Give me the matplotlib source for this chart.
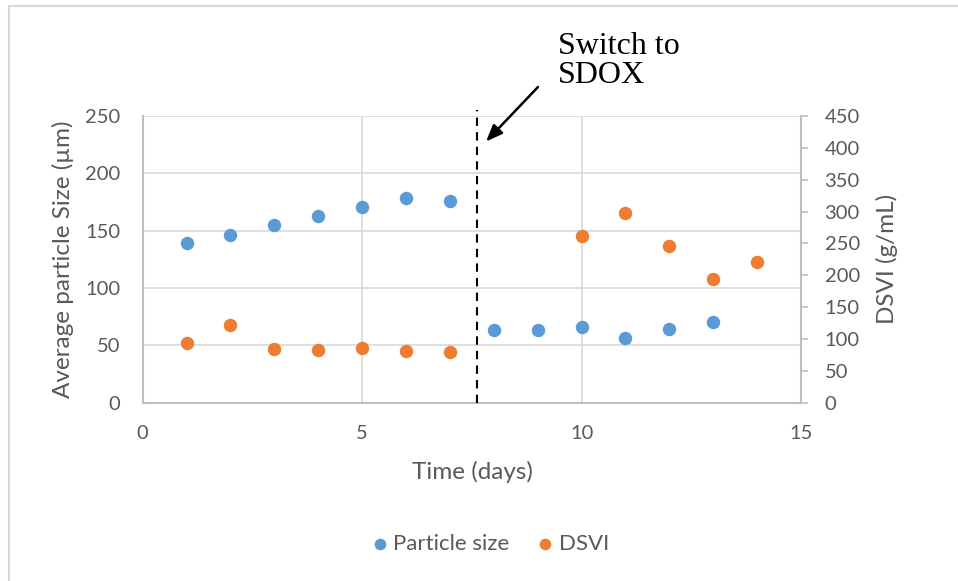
import matplotlib
matplotlib.use("Agg")
import matplotlib.pyplot as plt
from matplotlib.patches import Rectangle

# Particle size (µm) by day
size_days = [1, 2, 3, 4, 5, 6, 7, 8, 9, 10, 11, 12, 13]
particle_size = [139, 146, 155, 163, 171, 178.5, 175.5, 63, 63.5, 66, 56.5, 64.5, 70.5]

# DSVI (g/mL) by day
dsvi_days = [1, 2, 3, 4, 5, 6, 7, 10, 11, 12, 13, 14]
dsvi = [94, 122.5, 84, 83, 85.5, 81.5, 79.5, 261, 298, 246, 194, 221.5]

switch_day = 7.62

left_ticks = [0, 50, 100, 150, 200, 250]
right_ticks = [0, 50, 100, 150, 200, 250, 300, 350, 400, 450]
x_ticks = [0, 5, 10, 15]

BLUE = "#5B9BD5"
ORANGE = "#ED7D31"
GRID = "#D9D9D9"
SPINE = "#BFBFBF"
TEXT = "#595959"
FONT = "Lato"

W, H = 958, 581
fig = plt.figure(figsize=(W / 100, H / 100), dpi=100)
fig.patch.set_facecolor("white")

# chart-area frame
fig.patches.append(Rectangle((9 / W, -0.05), 1.2, 1 - 6 / H + 0.05,
                             transform=fig.transFigure, fill=False,
                             edgecolor=GRID, linewidth=1.5, zorder=0))

x0, x1 = 142.7, 801
y0, y1 = 402.7, 116
ax = fig.add_axes([x0 / W, 1 - y0 / H, (x1 - x0) / W, (y0 - y1) / H])
ax2 = ax.twinx()

ax.set_xlim(0, 15)
ax.set_ylim(0, 250)
ax2.set_ylim(0, 450)

ax.set_xticks(x_ticks)
ax.set_yticks(left_ticks)
ax2.set_yticks(right_ticks)

ax.grid(True, color=GRID, linewidth=1.2)
ax.set_axisbelow(True)

for a in (ax, ax2):
    for s in a.spines.values():
        s.set_visible(False)
ax.spines["left"].set_visible(True)
ax.spines["bottom"].set_visible(True)
ax2.spines["right"].set_visible(True)
for s in (ax.spines["left"], ax.spines["bottom"], ax2.spines["right"]):
    s.set_color(SPINE)
    s.set_linewidth(1.5)

TICK_FS = 14.5
ax.tick_params(axis="y", length=0, pad=16, labelsize=TICK_FS, labelcolor=TEXT)
ax.tick_params(axis="x", length=0, pad=16, labelsize=TICK_FS, labelcolor=TEXT)
ax2.tick_params(axis="y", length=5, width=1.2, color=SPINE, pad=12,
                labelsize=TICK_FS, labelcolor=TEXT)
for lab in ax.get_xticklabels() + ax.get_yticklabels() + ax2.get_yticklabels():
    lab.set_fontfamily(FONT)

ms = 75
h1 = ax.scatter(size_days, particle_size, s=ms, color=BLUE, zorder=3,
                label="Particle size", clip_on=False)
h2 = ax2.scatter(dsvi_days, dsvi, s=ms, color=ORANGE, zorder=3,
                 label="DSVI", clip_on=False)

LABEL_FS = 17.5
ax.set_ylabel("Average particle Size (µm)", fontsize=LABEL_FS, color=TEXT, family=FONT)
ax.yaxis.set_label_coords((74 - x0) / (x1 - x0), 0.5)
ax2.set_ylabel("DSVI (g/mL)", fontsize=LABEL_FS, color=TEXT, family=FONT)
ax2.yaxis.set_label_coords((876 - x0) / (x1 - x0), 0.5)
ax.set_xlabel("Time (days)", fontsize=LABEL_FS, color=TEXT, family=FONT)
ax.xaxis.set_label_coords((472 - x0) / (x1 - x0), (y0 - 461) / (y0 - y1))

# switch marker and annotation
ax.plot([switch_day, switch_day], [0, 255], color="black", linestyle=(0, (4, 3)),
        linewidth=1.5, clip_on=False, zorder=4)
ax.annotate("", xy=(7.78, 226), xytext=(9.05, 277),
            arrowprops=dict(arrowstyle="-|>,head_length=1.0,head_width=0.4",
                            color="black", lw=1.8),
            annotation_clip=False)
ax.text(9.46, 323, "Switch to\nSDOX", fontsize=23, family="Liberation Serif",
        va="top", ha="left", color="black", linespacing=1.0, clip_on=False)

leg = fig.legend(handles=[h1, h2], loc="center", bbox_to_anchor=(490 / W, 1 - 544 / H),
                 ncol=2, frameon=False, fontsize=16, handlelength=0.8,
                 handletextpad=0.2, columnspacing=1.2, markerscale=0.85)
for t in leg.get_texts():
    t.set_color(TEXT)
    t.set_fontfamily(FONT)

fig.savefig("out.png", dpi=100)
